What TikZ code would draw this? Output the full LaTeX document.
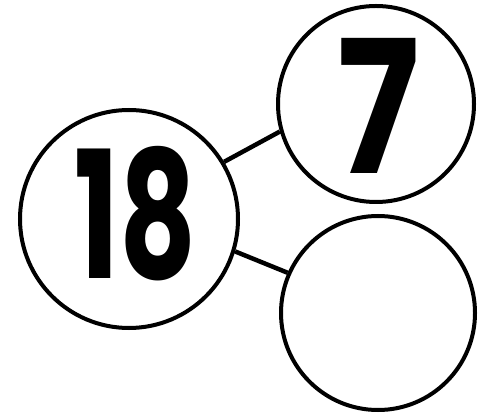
\documentclass[tikz,border=0pt]{standalone}
\usepackage{fontspec}
\newfontfamily\numfont{Poppins}
\begin{document}
\begin{tikzpicture}[x=1pt,y=1pt,
  bond/.style={circle,draw=black,line width=4pt,inner sep=0pt,fill=white},
  link/.style={draw=black,line width=4.5pt}]
\useasboundingbox (0,0) rectangle (478,417);
\node[bond,minimum size=218pt] (a) at (129,198) {};
\node[bond,minimum size=196pt] (b) at (376,313) {};
\node[bond,minimum size=194pt] (c) at (378,104) {};
\node[inner sep=0pt] (ta) at (136,203) {\resizebox{122pt}{132pt}{\numfont\bfseries 18}};
\node[inner sep=0pt] (tb) at (379,311.5) {\resizebox{82pt}{135pt}{\numfont\bfseries 7}};
\draw[link] (a.31.5) -- (b.196.6);
\draw[link] (a.-17.6) -- (c.156);
\end{tikzpicture}
\end{document}
